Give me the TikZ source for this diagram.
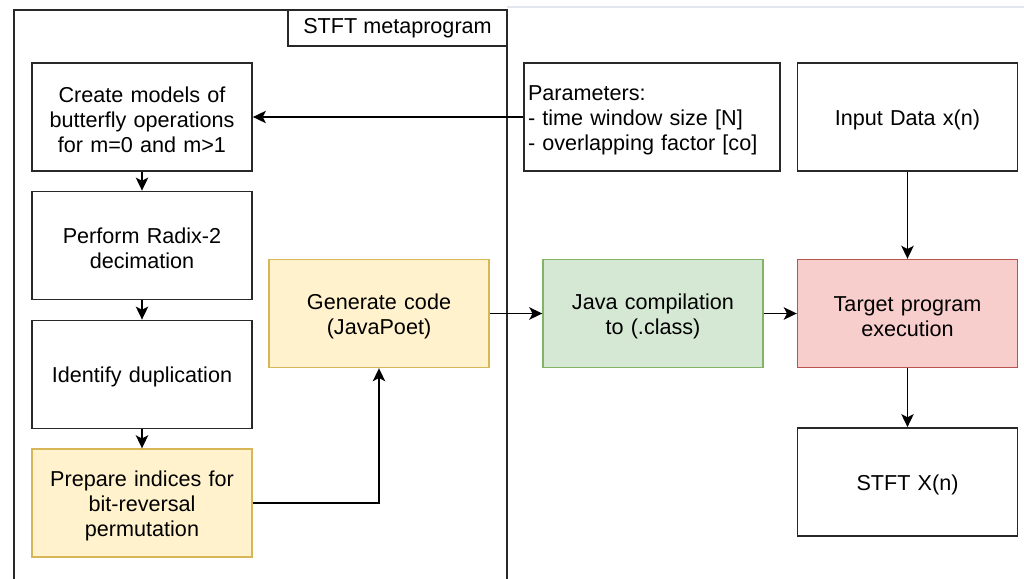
\documentclass[tikz,border=0pt]{standalone}
\usepackage{fontspec}
\setmainfont{Liberation Sans}
\usetikzlibrary{arrows.meta}
\definecolor{edge}{RGB}{40,40,40}
\definecolor{yfill}{HTML}{FFF2CC}
\definecolor{ydraw}{HTML}{D6B656}
\definecolor{gfill}{HTML}{D5E8D4}
\definecolor{gdraw}{HTML}{82B366}
\definecolor{rfill}{HTML}{F8CECC}
\definecolor{rdraw}{HTML}{B85450}
\definecolor{pageline}{RGB}{226,230,238}
\tikzset{
  every node/.style={font=\fontsize{10.8}{12.4}\selectfont},
  tag/.style={draw=edge, line width=0.9pt, fill=white,
    minimum width=109.5pt, minimum height=18pt, inner sep=2pt},
  % a taller first line drops the text block a little inside its box
  box/.style={draw=edge, line width=0.9pt, fill=white, align=center,
    text width=106pt, minimum width=110pt, minimum height=54pt, inner sep=2pt,
    execute at begin node={\rule{0pt}{10.6pt}}},
  ybox/.style={box, draw=ydraw, fill=yfill, line width=0.7pt},
  gbox/.style={box, draw=gdraw, fill=gfill, line width=0.7pt},
  rbox/.style={box, draw=rdraw, fill=rfill, line width=0.7pt},
  flow/.style={draw=black, line width=0.85pt,
    -{Stealth[length=6.5pt,width=6.2pt,inset=1.6pt]}},
  frame/.style={draw=edge, line width=0.9pt}
}
\begin{document}
\begin{tikzpicture}[x=0.5pt,y=-0.5pt]
\useasboundingbox (0,0) rectangle (1024,579);
\fill[white] (0,0) rectangle (1024,579);
% page edge
\draw[pageline, line width=0.8pt] (507,7) -- (1024,7);
% metaprogram container, open at the bottom
\draw[frame] (14,579) -- (14,10) -- (507,10) -- (507,579);
\node[tag] (title) at (397.5,28) {STFT metaprogram};

% metaprogram steps
\node[box] (create) at (142,117) {Create models of\\butterfly operations\\for m=0 and m>1};
\node[box] (radix) at (142,245.5) {Perform Radix-2\\decimation};
\node[box] (dup) at (142,374.5) {Identify duplication};
\node[ybox] (prep) at (142,503) {Prepare indices for\\bit-reversal\\permutation};
\node[ybox] (gen) at (379,313.5) {Generate code\\(JavaPoet)};

% outside the metaprogram
\node[box, minimum width=128pt, text width=124pt, align=left] (params) at (652,117)
  {Parameters:\\- time window size [N]\\- overlapping factor [co]};
\node[gbox] (java) at (653,313.5) {Java compilation\\to (.class)};
\node[box] (input) at (907.5,117) {Input Data x(n)};
\node[rbox] (target) at (907.5,313.5) {Target program\\execution};
\node[box] (stft) at (907.5,482) {STFT X(n)};

% connectors
\draw[flow] (params.west) -- (create.east);
\draw[flow] (create) -- (radix);
\draw[flow] (radix) -- (dup);
\draw[flow] (dup) -- (prep);
\draw[flow] (prep.east) -| (gen.south);
\draw[flow] (gen) -- (java);
\draw[flow] (java) -- (target);
\draw[flow] (input) -- (target);
\draw[flow] (target) -- (stft);
\end{tikzpicture}
\end{document}
